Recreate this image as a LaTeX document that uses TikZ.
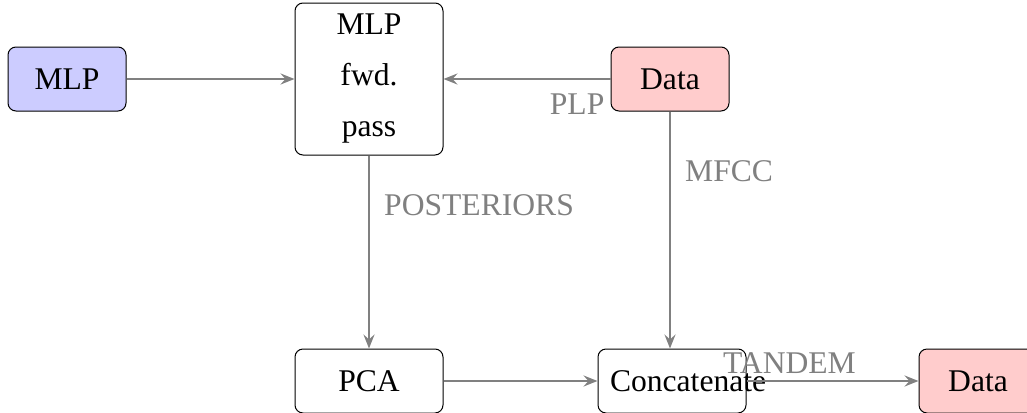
\documentclass[tikz,border=0pt]{standalone}
\usepackage{fontspec}
\setmainfont{Liberation Serif}
\usetikzlibrary{arrows.meta}
\begin{document}
\begin{tikzpicture}[x=0.5pt,y=-0.5pt,
  every node/.style={font=\fontsize{15.8}{25.5}\selectfont},
  box/.style={draw=black, rounded corners=4pt, line width=0.5pt, inner sep=0pt, align=center},
  small/.style={box, minimum width=59pt, minimum height=32pt},
  wide/.style={box, minimum width=74pt, minimum height=32pt},
  conn/.style={draw=gray, line width=1.2pt, -{Stealth[length=7pt,width=5.5pt,inset=2.5pt]}},
  lbl/.style={text=gray, inner sep=0pt}
]
\useasboundingbox (0,0) rectangle (1027,412);
\clip (0,0) rectangle (1027,412);
\node[small, fill=blue!20] (mlp) at (67,79) {MLP};
\node[box, minimum width=74pt, minimum height=76pt] (fwd) at (369,79) {MLP\\fwd.\\pass};
\node[small, fill=red!20] (data) at (670,79) {Data};
\node[wide] (pca) at (369,381) {PCA};
\node[wide, text width=62pt, inner xsep=6pt] (cat) at (672,381) {Concatenate};
\node[small, fill=red!20] (out) at (978,381) {Data};
\draw[conn] (mlp) -- (fwd);
\draw[conn] (data) -- node[lbl, pos=0.2, below=7pt] {PLP} (fwd);
\draw[conn] (fwd) -- node[lbl, pos=0.26, right=7pt] {POSTERIORS} (pca);
\draw[conn] (data) -- node[lbl, pos=0.25, right=7pt] {MFCC} (cat.north -| data);
\draw[conn] (pca) -- (cat);
\draw[conn] (cat) -- node[lbl, pos=0.25, above=3pt] {TANDEM} (out);
\end{tikzpicture}
\end{document}
